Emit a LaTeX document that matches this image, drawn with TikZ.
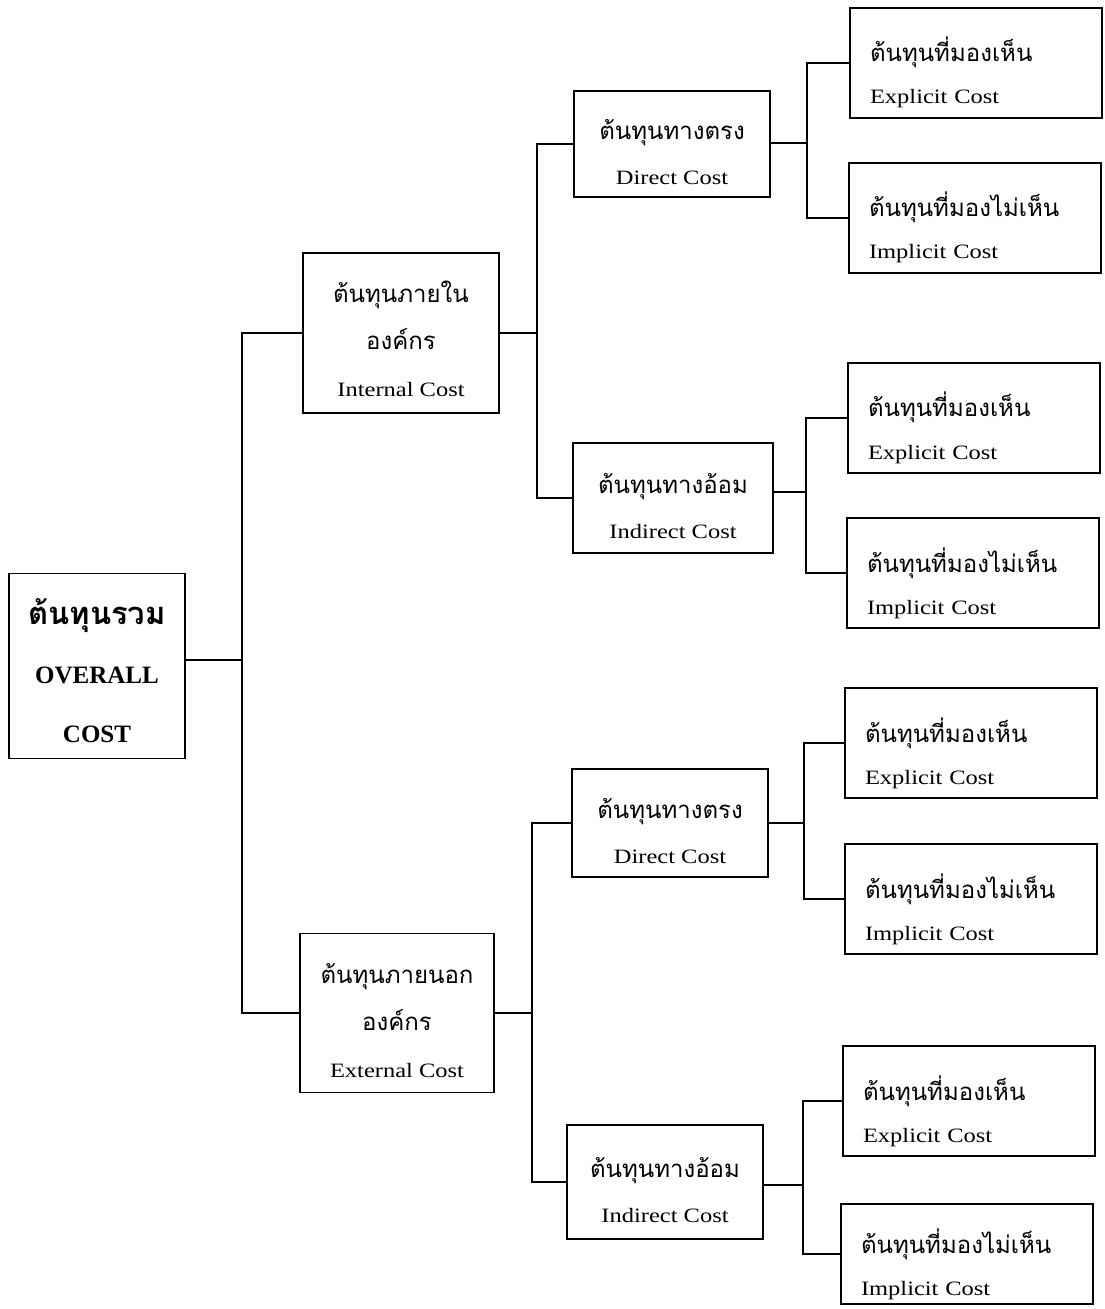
\documentclass[tikz,border=0pt]{standalone}
\usepackage{fontspec}
\setmainfont{Liberation Serif}[FakeStretch=1.2]
\newfontfamily\plainserif{Liberation Serif}
\newfontfamily\thai[Script=Thai]{Loma}
\usetikzlibrary{positioning}

\newcommand{\thaitxt}[1]{{\thai\fontsize{12}{14}\selectfont #1}}

\begin{document}
\begin{tikzpicture}[
        x=0.5pt, y=-0.5pt,
        every node/.style={font=\fontsize{10.2}{21}\selectfont},
        box/.style={draw, line width=0.9pt, inner sep=0pt, align=center, text depth=0pt},
        leaf/.style={box, minimum width=126pt, minimum height=55pt, align=left, text width=106pt, text height=10pt, text depth=11pt},
        mid/.style={box, minimum width=98pt, minimum height=54pt, text height=40.5pt, font=\fontsize{10.2}{22.5}\selectfont},
        upper/.style={box, minimum width=98pt, minimum height=80pt, text height=64pt, font=\fontsize{10.2}{23.5}\selectfont},
        link/.style={line width=0.8pt},
    ]
        \useasboundingbox (0,0) rectangle (1104,1309);

        % root and first level
        \node[box, minimum width=88pt, minimum height=92.5pt, text height=76.5pt, font=\plainserif\bfseries\fontsize{12.5}{29.5}\selectfont] (root) at (97,666)
            {{\thai\bfseries\fontsize{15.5}{16}\selectfont ต้นทุนรวม}\\OVERALL\\COST};
        \node[upper] (int) at (401,333)
            {\thaitxt{ต้นทุนภายใน}\\\thaitxt{องค์กร}\\Internal Cost};
        \node[upper, minimum width=97pt, minimum height=79.5pt] (ext) at (397,1013)
            {\thaitxt{ต้นทุนภายนอก}\\\thaitxt{องค์กร}\\External Cost};

        % second level
        \node[mid, minimum height=53pt] (idir) at (672,144) {\thaitxt{ต้นทุนทางตรง}\\Direct Cost};
        \node[mid, minimum width=100pt, minimum height=55pt] (iind) at (673,498) {\thaitxt{ต้นทุนทางอ้อม}\\Indirect Cost};
        \node[mid] (edir) at (670,823) {\thaitxt{ต้นทุนทางตรง}\\Direct Cost};
        \node[mid, minimum height=57pt] (eind) at (665,1182) {\thaitxt{ต้นทุนทางอ้อม}\\Indirect Cost};

        % leaves
        \node[leaf] (l1) at (976,63) {\thaitxt{ต้นทุนที่มองเห็น}\\Explicit Cost};
        \node[leaf] (l2) at (975,218) {\thaitxt{ต้นทุนที่มองไม่เห็น}\\Implicit Cost};
        \node[leaf] (l3) at (974,418) {\thaitxt{ต้นทุนที่มองเห็น}\\Explicit Cost};
        \node[leaf] (l4) at (973,573) {\thaitxt{ต้นทุนที่มองไม่เห็น}\\Implicit Cost};
        \node[leaf] (l5) at (971,743) {\thaitxt{ต้นทุนที่มองเห็น}\\Explicit Cost};
        \node[leaf] (l6) at (971,899) {\thaitxt{ต้นทุนที่มองไม่เห็น}\\Implicit Cost};
        \node[leaf] (l7) at (969,1101) {\thaitxt{ต้นทุนที่มองเห็น}\\Explicit Cost};
        \node[leaf, minimum height=50pt] (l8) at (967,1254) {\thaitxt{ต้นทุนที่มองไม่เห็น}\\Implicit Cost};

        % junctions
        \coordinate (j0) at (242,660);
        \coordinate (j1) at (537,333);
        \coordinate (j2) at (532,1013);
        \coordinate (k1) at (807,143);
        \coordinate (k2) at (806,492);
        \coordinate (k3) at (804,823);
        \coordinate (k4) at (803,1185);

        \draw[link] (j0 -| root.east) -- (j0);
        \draw[link] (int.west) -| (j0) |- (ext.west);
        \draw[link] (int.east) -- (j1);
        \draw[link] (idir.west) -| (j1) |- (iind.west);
        \draw[link] (ext.east) -- (j2);
        \draw[link] (edir.west) -| (j2) |- (eind.west);

        \draw[link] (k1 -| idir.east) -- (k1);
        \draw[link] (l1.west) -| (k1) |- (l2.west);
        \draw[link] (k2 -| iind.east) -- (k2);
        \draw[link] (l3.west) -| (k2) |- (l4.west);
        \draw[link] (k3 -| edir.east) -- (k3);
        \draw[link] (l5.west) -| (k3) |- (l6.west);
        \draw[link] (k4 -| eind.east) -- (k4);
        \draw[link] (l7.west) -| (k4) |- (l8.west);
    \end{tikzpicture}
\end{document}
